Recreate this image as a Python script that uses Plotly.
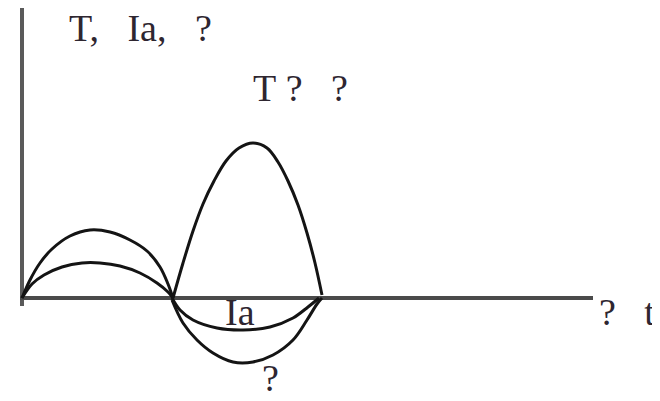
import plotly.graph_objects as go

# Schematic curves (origin at the axes corner)
arch_outer_x = [0, 8, 18, 30, 48, 68, 88, 108, 125, 138, 146, 151]
arch_outer_y = [0, 18, 35, 49, 62, 68, 66, 58, 47, 31, 14, 0]

arch_inner_x = [0, 10, 22, 40, 60, 78, 98, 118, 135, 146, 151]
arch_inner_y = [0, 14, 23, 31, 35, 35, 32, 25, 15, 6, 0]

lobe_x = [151, 161, 171, 181, 192, 204, 217, 231, 245, 256, 266, 276, 285, 293, 300]
lobe_y = [0, 35, 67, 94, 117, 137, 150, 155, 150, 136, 117, 93, 65, 35, 3]

ia_x = [150, 158, 171, 195, 221, 248, 271, 286, 297]
ia_y = [0, -12, -22, -30, -32, -29, -20, -9, 0]

deep_x = [150, 161, 175, 191, 211, 231, 251, 271, 285, 295, 300]
deep_y = [-2, -25, -42, -55, -64, -64, -57, -42, -22, -6, 0]

axis_y_top = 290
axis_y_bottom = -8
axis_x_end = 571

labels = ["T,\u00a0\u00a0\u00a0Ia,\u00a0\u00a0\u00a0?", "T\u00a0?\u00a0\u00a0\u00a0?", "Ia", "?", "?\u00a0\u00a0\u00a0t"]
label_x = [118, 278, 218, 248, 605]
label_y = [270, 210, -14, -80, -14]

fig = go.Figure()

# axes
fig.add_trace(go.Scatter(x=[0, 0], y=[axis_y_bottom, axis_y_top], mode="lines",
                         line=dict(color="#5a5a5a", width=4), hoverinfo="skip"))
fig.add_trace(go.Scatter(x=[-2, axis_x_end], y=[0, 0], mode="lines",
                         line=dict(color="#4a4a4a", width=4), hoverinfo="skip"))

for xs, ys in [(arch_outer_x, arch_outer_y), (arch_inner_x, arch_inner_y),
               (lobe_x, lobe_y), (ia_x, ia_y), (deep_x, deep_y)]:
    fig.add_trace(go.Scatter(x=xs, y=ys, mode="lines", line_shape="spline",
                             line=dict(color="#141414", width=3), hoverinfo="skip"))

for t, x, y in zip(labels, label_x, label_y):
    fig.add_annotation(x=x, y=y, xref="x", yref="y", text=t, showarrow=False,
                       font=dict(family="Liberation Serif", size=38, color="#2e2630"))

fig.update_layout(
    width=660, height=401, margin=dict(l=0, r=0, t=0, b=0),
    plot_bgcolor="white", paper_bgcolor="white", showlegend=False,
    xaxis=dict(range=[-14, 646], visible=False, fixedrange=True),
    yaxis=dict(range=[-111, 290], visible=False, fixedrange=True),
)

fig.write_html("out.html")
